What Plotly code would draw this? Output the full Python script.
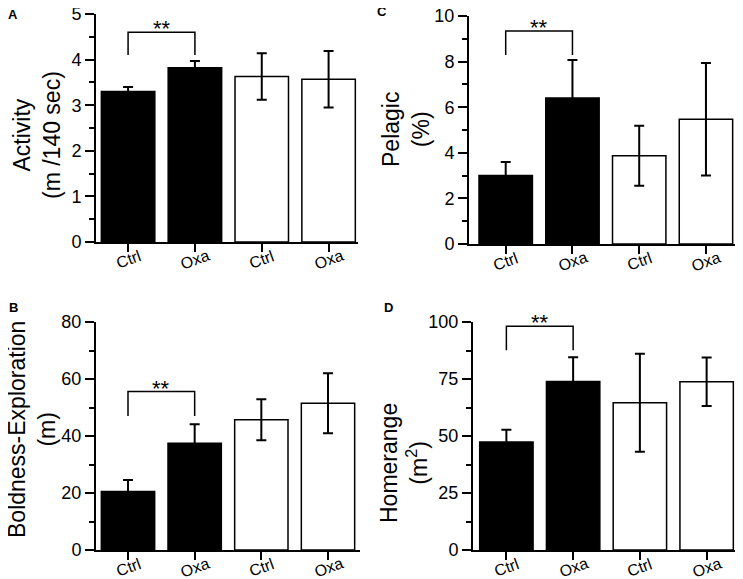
import plotly.graph_objects as go

# group labels and bar fills (black = first group, white = second group)
groups = ["Ctrl", "Oxa", "Ctrl", "Oxa"]
bar_colors = ["black", "black", "white", "white"]

# A: activity (m / 140 sec)
activity_mean = [3.30, 3.82, 3.63, 3.57]
activity_sem = [0.10, 0.15, 0.51, 0.62]
activity_bracket = [4.1, 4.6]

# B: boldness-exploration (m)
boldness_mean = [20.5, 37.5, 45.7, 51.5]
boldness_sem = [4.1, 6.6, 7.2, 10.5]
boldness_bracket = [47.0, 55.6]

# C: pelagic (%)
pelagic_mean = [3.00, 6.40, 3.87, 5.47]
pelagic_sem = [0.60, 1.67, 1.32, 2.47]
pelagic_bracket = [8.29, 9.34]

# D: homerange (m2)
homerange_mean = [47.4, 73.9, 64.6, 73.8]
homerange_sem = [5.3, 10.6, 21.5, 10.6]
homerange_bracket = [87.6, 98.1]

FONT = "Liberation Sans, Arial, sans-serif"
W, H = 743, 579
# the page body adds an 8px margin, so positions (in px of the target) are shifted back
OX, OY = 8, 5

panels = [
    dict(letter="A", mean=activity_mean, err=activity_sem, br=activity_bracket,
         title="Activity<br>(m /140 sec)", yr=[0, 5], dt=1, mdt=0.5,
         xd=(96, 358), yd=(11, 239), xr=[-0.48, 3.44], tpos=(37, 132), lpos=(13, 11)),
    dict(letter="B", mean=boldness_mean, err=boldness_sem, br=boldness_bracket,
         title="Boldness-Exploration<br>(m)", yr=[0, 80], dt=20, mdt=10,
         xd=(96, 360), yd=(319, 547), xr=[-0.48, 3.48], tpos=(32, 427), lpos=(13, 304)),
    dict(letter="C", mean=pelagic_mean, err=pelagic_sem, br=pelagic_bracket,
         title="Pelagic<br>(%)", yr=[0, 10], dt=2, mdt=1,
         xd=(469, 738), yd=(13, 241), xr=[-0.55, 3.48], tpos=(406, 127), lpos=(382, 9)),
    dict(letter="D", mean=homerange_mean, err=homerange_sem, br=homerange_bracket,
         title="Homerange<br>(m<sup>2</sup>)", yr=[0, 100], dt=25, mdt=12.5,
         xd=(473, 738), yd=(319, 547), xr=[-0.5, 3.47], tpos=(404, 460), lpos=(388, 304)),
]


def px_x(v):
    return (v - OX) / W


def px_y(v):
    return 1 - (v - OY) / H


fig = go.Figure()
annotations = []
xpos = list(range(len(groups)))

for i, p in enumerate(panels):
    n = "" if i == 0 else str(i + 1)
    xa, ya = "x" + n, "y" + n

    fig.add_trace(go.Bar(
        x=xpos, y=p["mean"], xaxis=xa, yaxis=ya, width=0.8,
        marker=dict(color=bar_colors, line=dict(color="black", width=1.5)),
        error_y=dict(type="data", array=p["err"], visible=True,
                     color="black", thickness=2, width=5),
        showlegend=False, hoverinfo="skip",
    ))
    # significance bracket between the two black bars
    lo, hi = p["br"]
    fig.add_trace(go.Scatter(
        x=[0, 0, 1, 1], y=[lo, hi, hi, lo], xaxis=xa, yaxis=ya,
        mode="lines", line=dict(color="black", width=1.5),
        showlegend=False, hoverinfo="skip",
    ))
    annotations.append(dict(x=0.5, y=hi, xref=xa, yref=ya, text="**",
                            showarrow=False, yanchor="bottom", yshift=-11,
                            font=dict(family=FONT, size=22, color="black")))

    # tilted group labels under the ticks
    for k, g in enumerate(groups):
        annotations.append(dict(x=k, y=0, xref=xa, yref=ya, text=g,
                                showarrow=False, textangle=-20, yshift=-17,
                                xanchor="center", yanchor="middle", borderpad=0,
                                font=dict(family=FONT, size=16, color="black")))

    # y title and panel letter
    tx, ty = p["tpos"]
    annotations.append(dict(x=px_x(tx), y=px_y(ty), xref="paper", yref="paper",
                            text=p["title"], textangle=-90, showarrow=False,
                            xanchor="center", yanchor="middle",
                            font=dict(family=FONT, size=23, color="black")))
    lx, ly = p["lpos"]
    annotations.append(dict(x=px_x(lx), y=px_y(ly), xref="paper", yref="paper",
                            text="<b>%s</b>" % p["letter"], showarrow=False,
                            xanchor="center", yanchor="middle",
                            font=dict(family=FONT, size=13, color="black")))

    x0, x1 = p["xd"]
    y0, y1 = p["yd"]
    axis_common = dict(showline=True, linecolor="black", linewidth=2,
                       ticks="outside", tickwidth=2, tickcolor="black",
                       showgrid=False, zeroline=False, automargin=False)
    fig.layout["xaxis" + n] = dict(
        axis_common, domain=[px_x(x0), px_x(x1)], anchor=ya, range=p["xr"],
        tickvals=xpos, showticklabels=False, ticklen=8, fixedrange=True)
    fig.layout["yaxis" + n] = dict(
        axis_common, domain=[px_y(y1), px_y(y0)], anchor=xa, range=p["yr"],
        dtick=p["dt"], tick0=0, ticklen=9, ticklabeloverflow="allow",
        minor=dict(dtick=p["mdt"], ticks="outside", ticklen=5, tickwidth=2,
                   tickcolor="black", showgrid=False),
        tickfont=dict(family=FONT, size=18, color="black"), fixedrange=True)

fig.update_layout(
    width=W, height=H, autosize=False,
    margin=dict(l=0, r=0, t=0, b=0, pad=0, autoexpand=False),
    paper_bgcolor="white", plot_bgcolor="white",
    annotations=annotations,
    font=dict(family=FONT, color="black"),
)

fig.write_html("out.html")
